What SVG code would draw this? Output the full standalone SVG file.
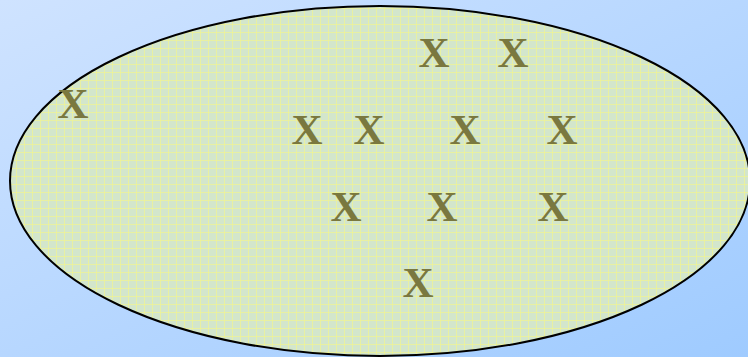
<svg xmlns="http://www.w3.org/2000/svg" width="748" height="357" viewBox="0 0 748 357">
<defs>
<linearGradient id="bg" x1="0" y1="0" x2="1" y2="1">
<stop offset="0" stop-color="#cfe3ff"/>
<stop offset="1" stop-color="#9fcbff"/>
</linearGradient>
<pattern id="grid" width="8" height="8" patternUnits="userSpaceOnUse">
<rect width="8" height="8" fill="#d3e6cc"/>
<path d="M0 0.5H8M0.5 0V8" stroke="#eef294" stroke-width="1" stroke-opacity="0.75"/>
</pattern>
<style>
.x{font-family:"Liberation Serif","Times New Roman",serif;font-size:43px;font-weight:bold;fill:#7a783f;text-anchor:middle}
</style>
</defs>
<rect width="748" height="357" fill="url(#bg)"/>
<g id="set">
<ellipse cx="380" cy="181" rx="370" ry="175" fill="url(#grid)" stroke="#000" stroke-width="2"/>
</g>
<g id="points">
<text class="x" x="434" y="67">X</text>
<text class="x" x="513" y="67">X</text>
<text class="x" x="73" y="118">X</text>
<text class="x" x="307" y="144">X</text>
<text class="x" x="369" y="144">X</text>
<text class="x" x="465" y="144">X</text>
<text class="x" x="562" y="144">X</text>
<text class="x" x="346" y="221">X</text>
<text class="x" x="442" y="221">X</text>
<text class="x" x="553" y="221">X</text>
<text class="x" x="418" y="297">X</text>
</g>
</svg>
